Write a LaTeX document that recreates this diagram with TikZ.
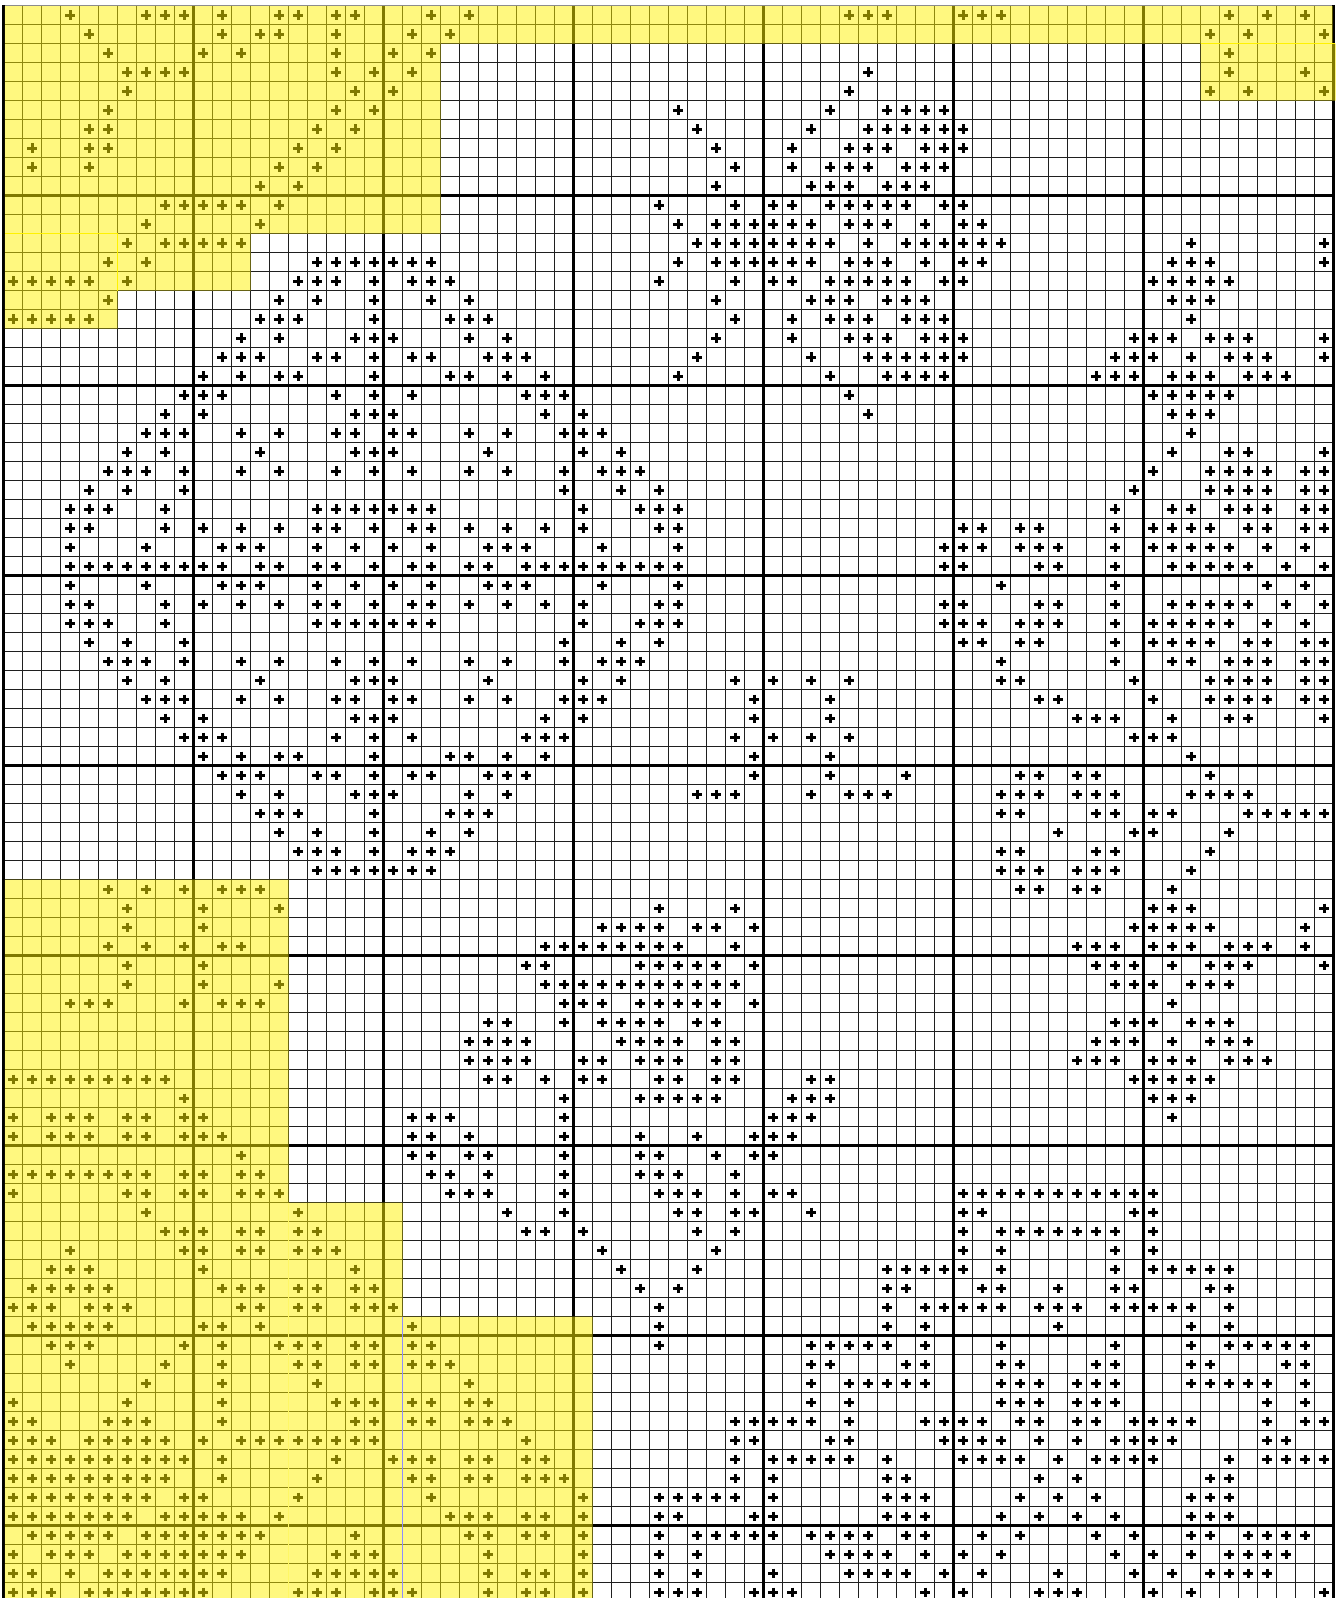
\documentclass[tikz,border=0pt]{standalone}
\tikzset{
  gridthin/.style={line width=0.65pt, black!88},
  gridthick/.style={line width=1.3pt, black},
  plusmark/.style={line width=1.45pt, black},
  hilite/.style={fill=yellow, fill opacity=0.5},
  selline/.style={line width=0.8pt, yellow},
  blueline/.style={line width=0.6pt, blue!45},
}
\newcommand\PlusRow[2]{\foreach \cx in {#2}{\draw[plusmark] ({13.1+19*\cx-4.7},{15.2+19*#1}) -- ++(9.4,0) ({13.1+19*\cx},{15.2+19*#1-4.7}) -- ++(0,9.4);}}
\begin{document}
\begin{tikzpicture}[x=0.5pt,y=-0.5pt]
\useasboundingbox (0,0) rectangle (1342,1598);
\fill[white] (0,0) rectangle (1342,1598);
\begin{scope}
\clip (0,0) rectangle (1342,1598);
% thin grid
\foreach \cx in {1,...,69} \draw[gridthin] ({3.6+19*\cx},5.7) -- ({3.6+19*\cx},1605);
\foreach \ry in {1,...,84} \draw[gridthin] (3.6,{5.7+19*\ry}) -- (1333.6,{5.7+19*\ry});
% thick grid
\foreach \cx in {10,20,30,40,50,60} \draw[gridthick] ({3.6+19*\cx},5.7) -- ({3.6+19*\cx},1605);
\foreach \ry in {10,20,30,40,50,60,70,80} \draw[gridthick] (3.6,{5.7+19*\ry}) -- (1333.6,{5.7+19*\ry});
% border
\draw[line width=0.5pt, black!45] (3.6,5.7) -- (1333.6,5.7);
\draw[line width=1.3pt, black] (3.6,5) -- (3.6,1605);
\draw[line width=1.6pt, black] (1333.6,5) -- (1333.6,1605);
% stitches
\PlusRow{0}{3,7,8,9,11,14,15,17,18,22,24,44,45,46,50,51,52,64,66,68}
\PlusRow{1}{4,11,13,14,17,21,23,63,65,69}
\PlusRow{2}{5,10,12,17,20,22,64}
\PlusRow{3}{6,7,8,9,17,19,21,45,64,68}
\PlusRow{4}{6,18,20,44,63,65,69}
\PlusRow{5}{5,17,19,35,43,46,47,48,49}
\PlusRow{6}{4,5,16,18,36,42,45,46,47,48,49,50}
\PlusRow{7}{1,4,5,15,17,37,41,44,45,46,48,49,50}
\PlusRow{8}{1,4,14,16,38,41,43,44,45,47,48,49}
\PlusRow{9}{13,15,37,42,43,44,46,47,48}
\PlusRow{10}{8,9,10,11,12,14,34,38,40,41,43,44,45,46,47,49,50}
\PlusRow{11}{7,13,35,37,38,39,40,41,42,44,45,46,48,50,51}
\PlusRow{12}{6,8,9,10,11,12,36,37,38,39,40,41,42,43,45,47,48,49,50,51,52,62,69}
\PlusRow{13}{5,7,16,17,18,19,20,21,22,35,37,38,39,40,41,42,44,45,46,48,50,51,61,62,63,69}
\PlusRow{14}{0,1,2,3,4,6,15,16,17,19,21,22,23,34,38,40,41,43,44,45,46,47,49,50,60,61,62,63,64}
\PlusRow{15}{5,14,16,19,22,24,37,42,43,44,46,47,48,61,62,63}
\PlusRow{16}{0,1,2,3,4,13,14,15,19,23,24,25,38,41,43,44,45,47,48,49,62}
\PlusRow{17}{12,14,18,19,20,24,26,37,41,44,45,46,48,49,50,59,60,61,63,64,65,69}
\PlusRow{18}{11,12,13,16,17,19,21,22,25,26,27,36,42,45,46,47,48,49,50,58,59,60,62,64,65,66,69}
\PlusRow{19}{10,12,14,15,19,23,24,26,28,35,43,46,47,48,49,57,58,59,61,62,63,65,66,67}
\PlusRow{20}{9,10,11,17,19,21,27,28,29,44,60,61,62,63,64}
\PlusRow{21}{8,10,18,19,20,28,30,45,61,62,63}
\PlusRow{22}{7,8,9,12,14,17,18,20,21,24,26,29,30,31,62}
\PlusRow{23}{6,8,13,18,19,20,25,30,32,61,64,65,69}
\PlusRow{24}{5,6,7,9,12,14,17,19,21,24,26,29,31,32,33,60,63,64,65,66,68,69}
\PlusRow{25}{4,6,9,29,32,34,59,63,64,65,66,68,69}
\PlusRow{26}{3,4,5,8,16,17,18,19,20,21,22,30,33,34,35,58,61,62,64,65,66,68,69}
\PlusRow{27}{3,4,8,10,12,14,16,17,19,21,22,24,26,28,30,34,35,50,51,53,54,58,60,61,62,63,65,66,68,69}
\PlusRow{28}{3,7,11,12,13,16,18,20,22,25,26,27,31,35,49,50,51,53,54,55,58,60,61,62,63,64,66,68}
\PlusRow{29}{3,4,5,6,7,8,9,10,11,13,14,16,17,19,21,22,24,25,27,28,29,30,31,32,33,34,35,49,50,54,55,58,61,62,63,64,65,67,69}
\PlusRow{30}{3,7,11,12,13,16,18,20,22,25,26,27,31,35,52,58,66,68}
\PlusRow{31}{3,4,8,10,12,14,16,17,19,21,22,24,26,28,30,34,35,49,50,54,55,58,61,62,63,64,65,67,69}
\PlusRow{32}{3,4,5,8,16,17,18,19,20,21,22,30,33,34,35,49,50,51,53,54,55,58,60,61,62,63,64,66,68}
\PlusRow{33}{4,6,9,29,32,34,50,51,53,54,58,60,61,62,63,65,66,68,69}
\PlusRow{34}{5,6,7,9,12,14,17,19,21,24,26,29,31,32,33,52,58,61,62,64,65,66,68,69}
\PlusRow{35}{6,8,13,18,19,20,25,30,32,38,40,42,44,52,53,59,63,64,65,66,68,69}
\PlusRow{36}{7,8,9,12,14,17,18,20,21,24,26,29,30,31,39,43,54,55,60,63,64,65,66,68,69}
\PlusRow{37}{8,10,18,19,20,28,30,39,43,56,57,58,61,64,65,69}
\PlusRow{38}{9,10,11,17,19,21,27,28,29,38,40,42,44,59,60,61}
\PlusRow{39}{10,12,14,15,19,23,24,26,28,39,43,62}
\PlusRow{40}{11,12,13,16,17,19,21,22,25,26,27,39,43,47,53,54,56,57,63}
\PlusRow{41}{12,14,18,19,20,24,26,36,37,38,42,44,45,46,52,53,54,56,57,58,62,63,64,65}
\PlusRow{42}{13,14,15,19,23,24,25,52,53,57,58,60,61,65,66,67,68,69}
\PlusRow{43}{14,16,19,22,24,55,59,60,64}
\PlusRow{44}{15,16,17,19,21,22,23,52,53,57,58,63}
\PlusRow{45}{16,17,18,19,20,21,22,52,53,54,56,57,58,62}
\PlusRow{46}{5,7,9,11,12,13,53,54,56,57,61}
\PlusRow{47}{6,10,14,34,38,60,61,62,69}
\PlusRow{48}{6,10,31,32,33,34,36,37,39,59,60,61,62,63,68}
\PlusRow{49}{5,7,9,11,12,28,29,30,31,32,33,34,35,38,56,57,58,60,61,62,64,65,66,68}
\PlusRow{50}{6,10,27,28,33,34,35,36,37,39,57,58,59,61,63,64,65,69}
\PlusRow{51}{6,10,14,28,29,30,31,32,33,34,35,36,37,38,58,59,60,62,63,64}
\PlusRow{52}{3,4,5,9,11,12,13,29,30,31,33,34,35,36,37,39,61}
\PlusRow{53}{25,26,29,31,32,33,34,36,37,58,59,60,62,63,64}
\PlusRow{54}{24,25,26,27,32,33,34,35,37,38,57,58,59,61,63,64,65}
\PlusRow{55}{24,25,26,27,30,31,33,34,35,37,38,56,57,58,60,61,62,64,65,66}
\PlusRow{56}{0,1,2,3,4,5,6,7,8,25,26,28,30,31,34,35,37,38,42,43,59,60,61,62,63}
\PlusRow{57}{9,29,33,34,35,36,37,41,42,43,60,61,62}
\PlusRow{58}{0,2,3,4,6,7,9,10,21,22,23,29,40,41,42,61}
\PlusRow{59}{0,2,3,4,6,7,9,10,11,21,22,24,29,33,36,39,40,41}
\PlusRow{60}{12,21,22,24,25,29,33,34,37,39,40}
\PlusRow{61}{0,1,2,3,4,5,6,7,9,10,12,13,22,23,25,29,33,34,35,38}
\PlusRow{62}{0,6,7,9,10,12,13,14,23,24,25,29,34,35,36,38,40,41,50,51,52,53,54,55,56,57,58,59,60}
\PlusRow{63}{7,15,26,29,35,36,38,39,42,50,51,59,60}
\PlusRow{64}{8,9,10,12,13,15,16,27,28,30,36,38,50,52,53,54,55,56,57,58,60}
\PlusRow{65}{3,9,10,12,13,15,16,17,31,37,50,52,58,60}
\PlusRow{66}{2,3,4,10,18,32,36,46,47,48,49,50,52,58,60,61,62,63,64}
\PlusRow{67}{1,2,3,4,5,11,12,13,15,16,18,19,33,35,46,47,51,52,55,58,59,63,64}
\PlusRow{68}{0,1,2,4,5,6,12,13,15,16,18,19,20,34,46,48,49,50,51,52,54,55,56,58,59,60,61,62,64}
\PlusRow{69}{1,2,3,4,5,10,11,13,21,34,46,48,55,62,64}
\PlusRow{70}{2,3,4,9,11,14,15,16,18,19,21,22,34,42,43,44,45,46,48,52,58,62,64,65,66,67,68}
\PlusRow{71}{3,8,11,15,16,18,19,21,22,23,42,43,47,48,52,53,57,58,62,63,67,68}
\PlusRow{72}{7,11,16,24,42,44,45,46,47,48,52,53,54,56,57,58,62,63,64,65,66,68}
\PlusRow{73}{0,6,11,17,18,19,21,22,24,25,42,44,52,53,54,56,57,58,66,68}
\PlusRow{74}{0,1,5,6,7,11,18,19,21,22,24,25,26,38,39,40,41,42,44,48,49,50,51,53,54,56,57,59,60,61,62,66,68,69}
\PlusRow{75}{0,1,2,4,5,6,7,8,10,12,13,14,15,16,17,18,19,27,38,39,43,44,49,50,51,52,54,56,58,59,60,61,66,67}
\PlusRow{76}{0,1,2,3,4,5,6,7,8,9,11,17,20,21,22,24,25,27,28,38,40,41,42,43,44,46,50,51,52,53,55,57,58,59,60,64,66,67,68,69}
\PlusRow{77}{0,1,2,3,4,5,6,7,8,11,16,21,22,24,25,27,28,29,38,40,46,47,54,56,63,64}
\PlusRow{78}{0,1,2,3,4,5,6,7,9,10,15,22,30,34,35,36,37,38,40,46,47,48,53,55,57,62,63,64}
\PlusRow{79}{0,1,2,3,4,5,6,8,9,10,11,12,14,23,24,25,27,28,30,34,35,39,40,46,47,48,52,54,56,58,62,63,64}
\PlusRow{80}{1,2,3,4,5,7,8,9,10,11,12,13,18,24,25,27,28,30,34,36,37,38,39,40,42,43,44,45,47,48,51,53,57,59,62,63,65,66,67,68}
\PlusRow{81}{0,2,3,4,6,7,8,9,10,11,12,17,18,19,25,30,34,36,43,44,45,46,48,50,52,58,60,62,64,65,66,67}
\PlusRow{82}{0,1,3,5,6,7,8,9,10,11,16,17,18,19,20,25,27,28,30,34,36,40,44,45,46,47,49,51,55,59,61,63,64,65,66}
\PlusRow{83}{0,1,2,4,5,6,7,8,9,10,15,16,17,19,20,21,25,27,28,30,34,35,36,39,40,41,48,50,54,55,56,60,62,69}
% highlighted (selected) regions
\fill[hilite]
  (4.8,6.2) rectangle (1332.6,43.7)
  (4.8,43.7) rectangle (440.6,233.7)
  (4.8,233.7) rectangle (250.6,290.7)
  (4.8,290.7) rectangle (117.6,328.7)
  (1200.6,43.7) rectangle (1335.8,100.7)
  (4.8,879.7) rectangle (288.6,1202.7)
  (4.8,1202.7) rectangle (402.6,1316.7)
  (4.8,1316.7) rectangle (592.6,1600);
% selection outlines
\draw[selline] (5,233.7) -- (117.6,233.7) -- (117.6,290.7);
\draw[selline] (1200.6,43.7) -- (1334.5,43.7);
\draw[line width=0.4pt, yellow!60] (288.6,1202.7) -- (288.6,1600);
\draw[blueline] (402.6,1316.7) -- (402.6,1600);
\end{scope}
\end{tikzpicture}
\end{document}
